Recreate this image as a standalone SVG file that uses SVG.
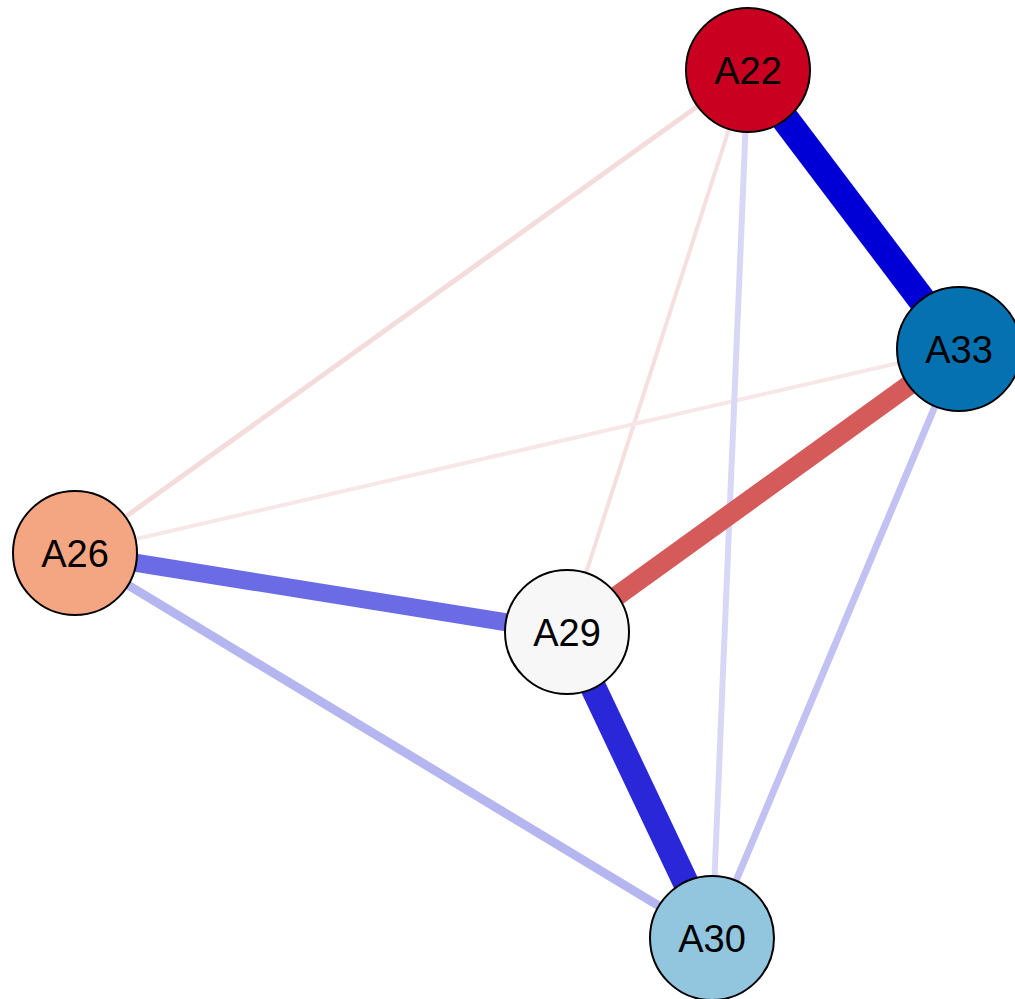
<svg xmlns="http://www.w3.org/2000/svg" width="1015" height="999" viewBox="0 0 1015 999">
<style>
.edge{fill:none;stroke-linecap:butt}
.node circle{stroke:#000;stroke-width:2}
.node text{font-family:"Liberation Sans",Arial,sans-serif;font-size:38px;fill:#000;text-anchor:middle}
</style>
<rect width="1015" height="999" fill="#fff"/>
<g id="edges">
<line class="edge" x1="748" y1="70" x2="75" y2="553" stroke="#f4dcdc" stroke-width="5"/>
<line class="edge" x1="748" y1="70" x2="567" y2="632" stroke="#f5dfdf" stroke-width="4"/>
<line class="edge" x1="959" y1="349" x2="75" y2="553" stroke="#f7e7e7" stroke-width="4"/>
<line class="edge" x1="748" y1="70" x2="712" y2="938" stroke="#d8d8f6" stroke-width="6"/>
<line class="edge" x1="959" y1="349" x2="712" y2="938" stroke="#c2c2f2" stroke-width="7"/>
<line class="edge" x1="75" y1="553" x2="712" y2="938" stroke="#b5b5f0" stroke-width="9"/>
<line class="edge" x1="75" y1="553" x2="567" y2="632" stroke="#6b6be6" stroke-width="18"/>
<line class="edge" x1="959" y1="349" x2="567" y2="632" stroke="#d55a5a" stroke-width="20"/>
<line class="edge" x1="567" y1="632" x2="712" y2="938" stroke="#2a27d8" stroke-width="26"/>
<line class="edge" x1="748" y1="70" x2="959" y2="349" stroke="#0000d6" stroke-width="28"/>
</g>
<g id="A22" class="node"><circle cx="748" cy="70" r="62" fill="#ca0020"/><text x="748" y="84">A22</text></g>
<g id="A33" class="node"><circle cx="959" cy="349" r="62" fill="#0571b0"/><text x="959" y="363">A33</text></g>
<g id="A26" class="node"><circle cx="75" cy="553" r="62" fill="#f4a582"/><text x="75" y="567">A26</text></g>
<g id="A29" class="node"><circle cx="567" cy="632" r="62" fill="#f7f7f7"/><text x="567" y="646">A29</text></g>
<g id="A30" class="node"><circle cx="712" cy="938" r="62" fill="#92c5de"/><text x="712" y="952">A30</text></g>
</svg>
